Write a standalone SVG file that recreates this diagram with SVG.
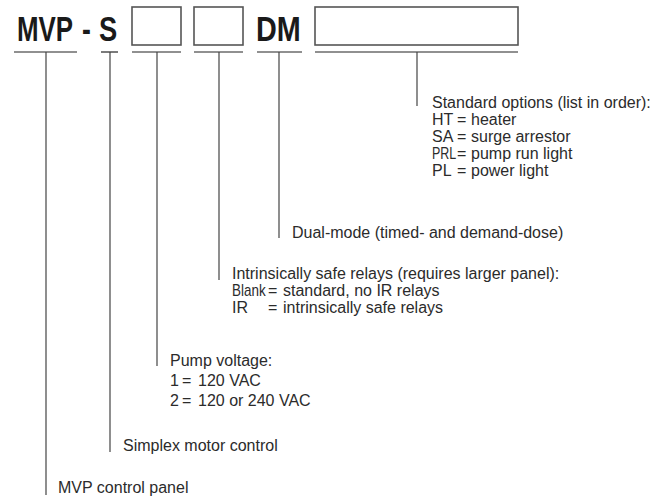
<svg xmlns="http://www.w3.org/2000/svg" width="665" height="498" viewBox="0 0 665 498">
<style>
.t{font-family:"Liberation Sans",Arial,sans-serif;font-size:16px;fill:#2b2b2b}
.h{font-family:"Liberation Sans",Arial,sans-serif;font-size:36px;font-weight:bold;fill:#1a1a1a}
.box{fill:#fff;stroke:#555;stroke-width:1.6}
.ul{stroke:#222;stroke-width:1.2;fill:none}
.v{stroke:#444;stroke-width:1.2;fill:none}
</style>
<rect width="665" height="498" fill="#fff"/>
<g id="header">
<text class="h" transform="translate(17 41) scale(0.72 1)">MVP</text>
<text class="h" transform="translate(82 41) scale(0.74 1)">-</text>
<text class="h" transform="translate(99 41) scale(0.76 1)">S</text>
<rect class="box" x="132" y="7" width="49" height="38"/>
<rect class="box" x="194" y="7" width="49" height="38"/>
<text class="h" transform="translate(256 41) scale(0.8 1)">DM</text>
<rect class="box" x="315" y="7" width="203" height="38"/>
</g>
<g id="connectors">
<line class="ul" x1="14" y1="52" x2="77" y2="52"/>
<line class="ul" x1="101" y1="52" x2="118" y2="52"/>
<line class="ul" x1="132" y1="52" x2="181" y2="52"/>
<line class="ul" x1="194" y1="52" x2="243" y2="52"/>
<line class="ul" x1="257" y1="52" x2="302" y2="52"/>
<line class="ul" x1="315" y1="52" x2="518" y2="52"/>
<line class="v" x1="46" y1="52" x2="46" y2="495"/>
<line class="v" x1="110" y1="52" x2="110" y2="452"/>
<line class="v" x1="157" y1="52" x2="157" y2="366"/>
<line class="v" x1="219" y1="52" x2="219" y2="280"/>
<line class="v" x1="279" y1="52" x2="279" y2="238"/>
<line class="v" x1="417" y1="52" x2="417" y2="106"/>
</g>
<g id="standard-options">
<text class="t" x="432" y="108">Standard options (list in order):</text>
<text class="t" x="432" y="125">HT</text>
<text class="t" x="457" y="125">=</text>
<text class="t" x="471" y="125">heater</text>
<text class="t" x="432" y="142">SA</text>
<text class="t" x="457" y="142">=</text>
<text class="t" x="471" y="142">surge arrestor</text>
<text class="t" transform="translate(432 159) scale(0.78 1)">PRL</text>
<text class="t" x="457" y="159">=</text>
<text class="t" x="471" y="159">pump run light</text>
<text class="t" x="432" y="176">PL</text>
<text class="t" x="457" y="176">=</text>
<text class="t" x="471" y="176">power light</text>
</g>
<g id="dual-mode">
<text class="t" x="292" y="238">Dual-mode (timed- and demand-dose)</text>
</g>
<g id="relays">
<text class="t" x="232" y="279">Intrinsically safe relays (requires larger panel):</text>
<text class="t" transform="translate(232 296) scale(0.84 1)">Blank</text>
<text class="t" x="268" y="296">=</text>
<text class="t" x="283" y="296">standard, no IR relays</text>
<text class="t" x="232" y="313">IR</text>
<text class="t" x="268" y="313">=</text>
<text class="t" x="283" y="313">intrinsically safe relays</text>
</g>
<g id="pump-voltage">
<text class="t" x="170" y="366">Pump voltage:</text>
<text class="t" x="170" y="386">1</text>
<text class="t" x="182" y="386">=</text>
<text class="t" x="198" y="386">120 VAC</text>
<text class="t" x="170" y="406">2</text>
<text class="t" x="182" y="406">=</text>
<text class="t" x="198" y="406">120 or 240 VAC</text>
</g>
<g id="simplex">
<text class="t" x="123" y="451">Simplex motor control</text>
</g>
<g id="mvp-panel">
<text class="t" x="58" y="493">MVP control panel</text>
</g>
</svg>
